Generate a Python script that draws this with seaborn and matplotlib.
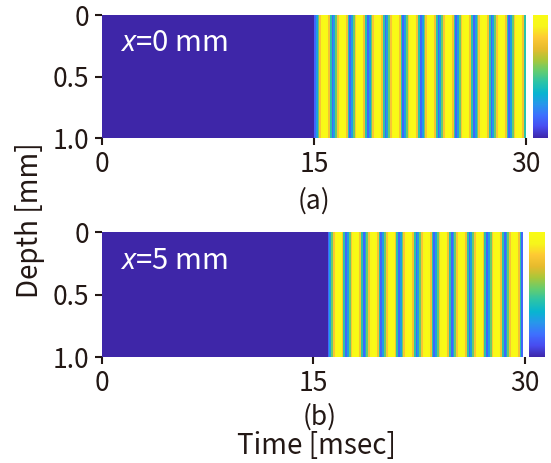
import matplotlib
matplotlib.use('Agg')
import numpy as np
import matplotlib.pyplot as plt
import seaborn as sns
from matplotlib.colors import LinearSegmentedColormap

# datos
tiempo_max = 30.0          # ms
paso_t = 0.125             # ms por columna
n_prof = 10                # filas de profundidad (0 a 1 mm)
inicio_a = 15.0            # llegada de la onda en x=0 mm
inicio_b = 16.0            # llegada de la onda en x=5 mm
fin_b = 29.875             # la onda en (b) termina justo antes de 30 ms
# un ciclo de la onda (1.25 ms, 10 columnas), valor normalizado leido del color
ciclo = [0.16, 0.30, 0.55, 0.80, 0.93, 0.98, 1.0, 0.95, 0.78, 0.45]

etiquetas_x = ["0", "15", "30"]
etiquetas_y = ["0", "0.5", "1.0"]
textos_panel = ["$x$=0 mm", "$x$=5 mm"]
letras_panel = ["(a)", "(b)"]

# parula (MATLAB) aproximada
parula_rgb = [
    (0.2422, 0.1504, 0.6603), (0.2813, 0.3006, 0.9414), (0.2440, 0.4358, 0.9988),
    (0.1540, 0.5902, 0.9218), (0.0297, 0.7082, 0.8163), (0.1717, 0.7670, 0.6554),
    (0.3909, 0.8029, 0.4354), (0.6720, 0.7793, 0.2227), (0.9035, 0.7330, 0.1774),
    (0.9952, 0.7893, 0.2028), (0.9691, 0.9606, 0.1064), (0.9769, 0.9839, 0.0805),
]
parula = LinearSegmentedColormap.from_list("parula", parula_rgb)

n_t = int(round(tiempo_max / paso_t))


def campo(inicio, fin):
    fila = np.zeros(n_t)
    i0 = int(round(inicio / paso_t))
    i1 = int(round(fin / paso_t))
    for i in range(i0, i1):
        fila[i] = ciclo[(i - i0) % len(ciclo)]
    fila[i1:] = np.nan
    return np.tile(fila, (n_prof, 1))


datos = [campo(inicio_a, tiempo_max), campo(inicio_b, fin_b)]

sns.set_theme(style="white")
plt.rcParams['font.family'] = ['Noto Sans CJK JP', 'DejaVu Sans']
plt.rcParams['mathtext.fontset'] = 'custom'
plt.rcParams['mathtext.it'] = 'Noto Sans:italic'
plt.rcParams['mathtext.rm'] = 'Noto Sans'
color_txt = '#231815'

fig = plt.figure(figsize=(5.51, 4.63), dpi=100)
pos_ax = [[0.1851, 0.7019, 0.7695, 0.2657], [0.1851, 0.2289, 0.7677, 0.2700]]
pos_cb = [[0.9673, 0.7019, 0.0272, 0.2657], [0.9600, 0.2289, 0.0290, 0.2700]]
pos_letra = [(0.570, 1 - 201 / 463), (0.580, 1 - 417 / 463)]

for k in range(2):
    ax = fig.add_axes(pos_ax[k])
    cax = fig.add_axes(pos_cb[k])
    sns.heatmap(datos[k], ax=ax, cbar_ax=cax, cmap=parula, vmin=0, vmax=1,
                xticklabels=False, yticklabels=False)
    ax.set_xticks([0, n_t / 2, n_t])
    ax.set_xticklabels(etiquetas_x)
    ax.set_yticks([0, n_prof / 2, n_prof])
    ax.set_yticklabels(etiquetas_y)
    ax.tick_params(axis='both', which='both', direction='out', length=5, width=1.5,
                   colors=color_txt, labelsize=19, pad=4,
                   bottom=True, left=True)
    for lbl in ax.get_yticklabels():
        lbl.set_rotation(0)
    ax.set_xlabel("")
    ax.set_ylabel("")
    ax.text(0.042, 0.77, textos_panel[k], transform=ax.transAxes, color='white',
            fontsize=21, va='center', ha='left')
    cb = ax.collections[0].colorbar
    cb.set_ticks([])
    cb.outline.set_visible(False)
    fig.text(pos_letra[k][0], pos_letra[k][1], letras_panel[k], ha='center',
             va='center', fontsize=19, color=color_txt)

fig.text(0.575, 1 - 446 / 463, "Time [msec]", ha='center', va='center',
         fontsize=20, color=color_txt)
fig.text(0.055, 0.525, "Depth [mm]", rotation=90, ha='center', va='center',
         fontsize=20, color=color_txt)

fig.savefig("out.png", dpi=100)
plt.close(fig)
